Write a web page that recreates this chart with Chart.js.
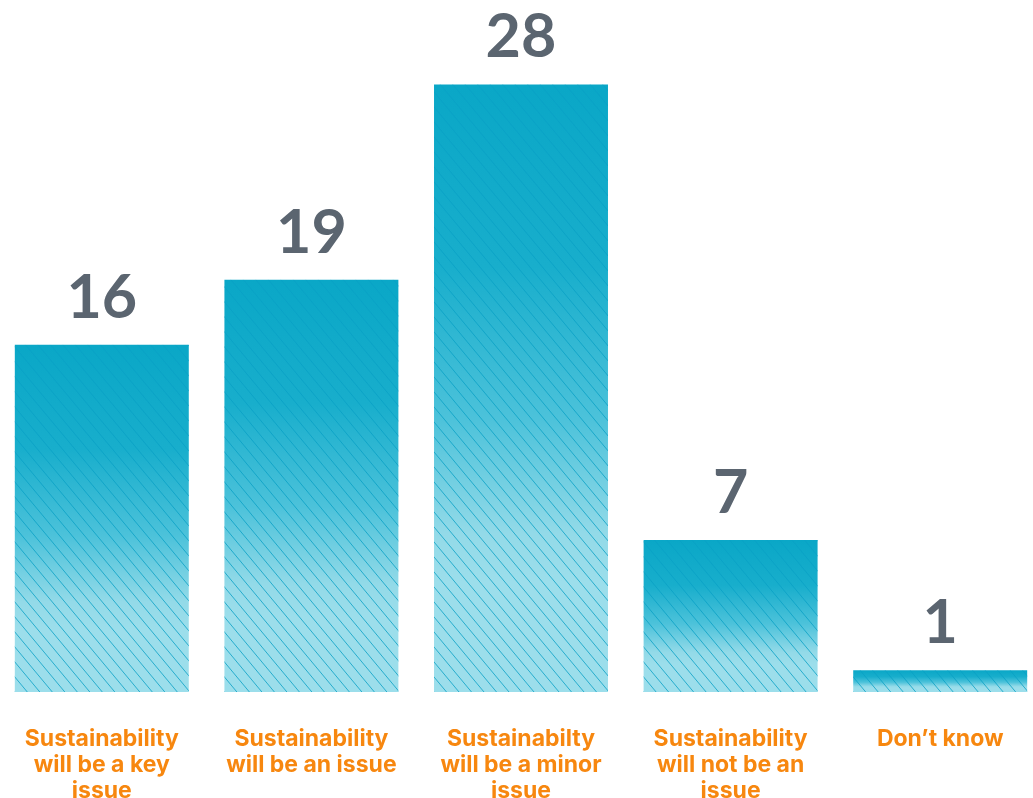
<!DOCTYPE html>
<html>
<head>
<meta charset="utf-8">
<title>Sustainability survey</title>
<script src="https://cdn.jsdelivr.net/npm/chart.js@4.4.1/dist/chart.umd.min.js"></script>
<style>
  html, body { margin: 0; padding: 0; background: #fff; overflow: hidden; }
  #wrap { position: absolute; left: -3px; top: 0; width: 1048px; height: 798px; }
</style>
</head>
<body>
<div id="wrap"><canvas id="chart" width="1048" height="798"></canvas></div>
<script>
const categories = [
  ['Sustainability', 'will be a key', 'issue'],
  ['Sustainability', 'will be an issue'],
  ['Sustainabilty', 'will be a minor', 'issue'],
  ['Sustainability', 'will not be an', 'issue'],
  ['Don\u2019t know']
];
const responses = [16, 19, 28, 7, 1];

const TOP_COLOR = '#0aa7c7';
const BOTTOM_COLOR = '#9cdeeb';

// vertical gradient per bar, dark at the top, light toward the baseline
function barFill(ctx) {
  const chart = ctx.chart;
  const { chartArea } = chart;
  if (!chartArea || ctx.type !== 'data') return TOP_COLOR;
  const yScale = chart.scales.y;
  const top = yScale.getPixelForValue(ctx.raw);
  const base = yScale.getPixelForValue(0);
  const g = chart.ctx.createLinearGradient(0, top, 0, base);
  g.addColorStop(0, TOP_COLOR);
  g.addColorStop(0.3, '#18aecc');
  g.addColorStop(0.55, '#4cc2da');
  g.addColorStop(0.74, '#93dae8');
  g.addColorStop(0.82, BOTTOM_COLOR);
  g.addColorStop(1, BOTTOM_COLOR);
  return g;
}

// diagonal hatch over each bar
const hatch = {
  id: 'hatch',
  afterDatasetsDraw(chart) {
    const c = chart.ctx;
    chart.getDatasetMeta(0).data.forEach(bar => {
      const { x, y, base, width } = bar.getProps(['x', 'y', 'base', 'width'], true);
      const l = x - width / 2, r = x + width / 2;
      c.save();
      c.beginPath();
      c.rect(l, y, width, base - y);
      c.clip();
      c.strokeStyle = 'rgba(10,160,198,0.8)';
      c.lineWidth = 1;
      const slope = 1.2, step = 12.5;
      const h = base - y;
      for (let sx = l - h / slope - step; sx < r + step; sx += step) {
        c.beginPath();
        c.moveTo(sx, y);
        c.lineTo(sx + h / slope, base);
        c.stroke();
      }
      c.restore();
    });
  }
};

// value numbers above the bars
const values = {
  id: 'values',
  afterDatasetsDraw(chart) {
    const c = chart.ctx;
    c.save();
    c.fillStyle = '#5b6570';
    c.font = '700 61px Lato';
    c.textAlign = 'center';
    c.textBaseline = 'alphabetic';
    chart.getDatasetMeta(0).data.forEach((bar, i) => {
      c.fillText(String(responses[i]), bar.x, bar.y - 27);
    });
    c.restore();
  }
};

new Chart(document.getElementById('chart'), {
  type: 'bar',
  data: {
    labels: categories,
    datasets: [{
      data: responses,
      backgroundColor: barFill,
      borderWidth: 0,
      barPercentage: 0.83,
      categoryPercentage: 1
    }]
  },
  options: {
    responsive: false,
    animation: false,
    layout: { padding: { top: 41, left: 0, right: 0, bottom: 0 } },
    plugins: { legend: { display: false }, tooltip: { enabled: false } },
    scales: {
      x: {
        grid: { display: false, drawTicks: false },
        border: { display: false },
        ticks: {
          color: '#f7870f',
          font: { family: 'Inter', weight: '700', size: 23, lineHeight: 1.13 },
          padding: 34,
          maxRotation: 0,
          autoSkip: false
        },
        afterFit(scale) {
          scale.height = 106;
          scale.paddingLeft = 0;
          scale.paddingRight = 0;
        }
      },
      y: {
        display: false,
        min: 0,
        max: 30
      }
    }
  },
  plugins: [hatch, values]
});
</script>
</body>
</html>
